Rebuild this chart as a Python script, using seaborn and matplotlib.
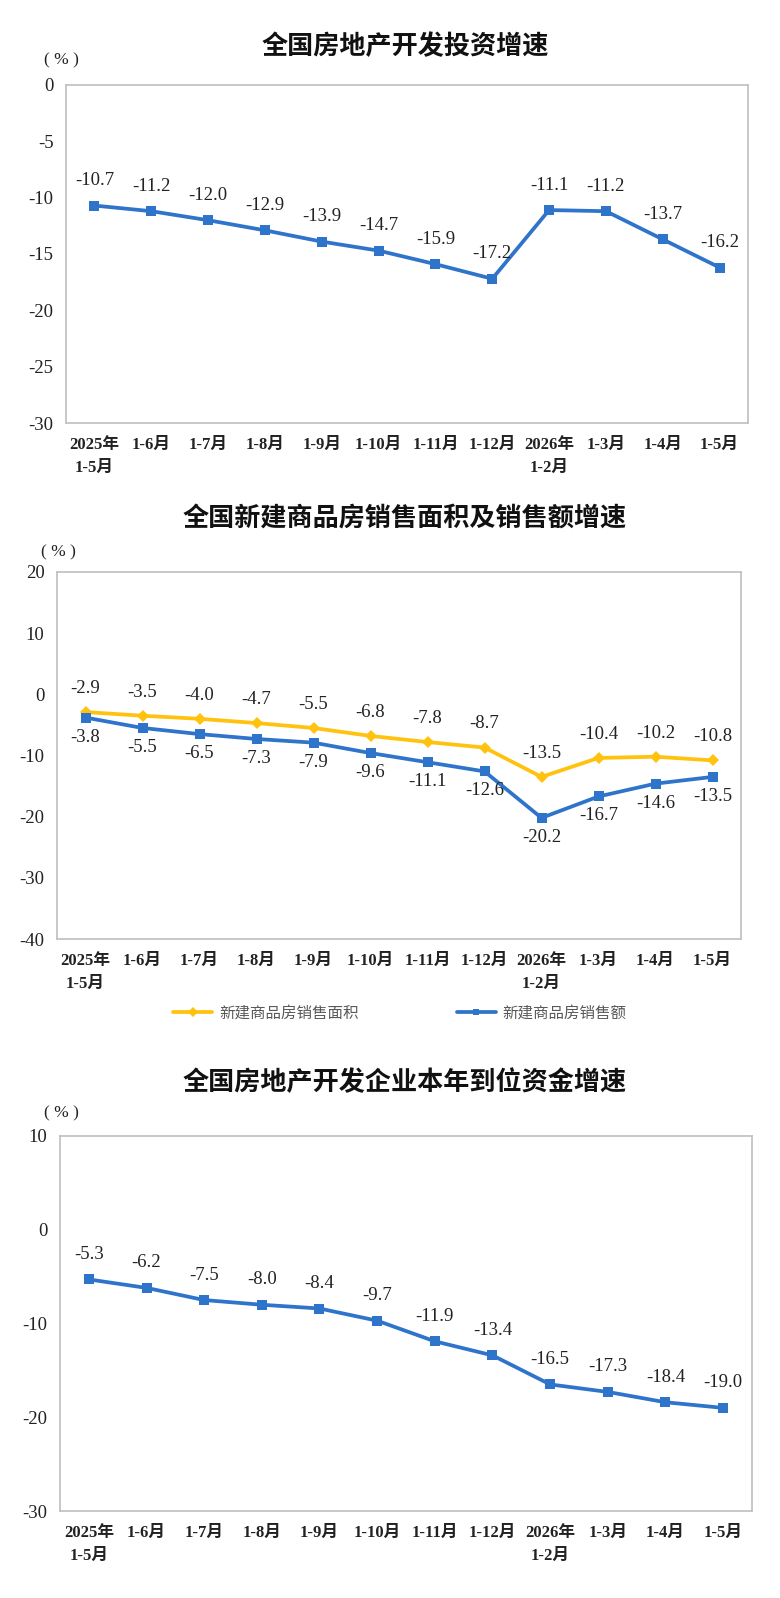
import numpy as np
import pandas as pd
import matplotlib
matplotlib.use("Agg")
import matplotlib.pyplot as plt
import seaborn as sns

# ---------------- data ----------------
periods = ["2025年\n1-5月", "1-6月", "1-7月", "1-8月", "1-9月", "1-10月",
           "1-11月", "1-12月", "2026年\n1-2月", "1-3月", "1-4月", "1-5月"]

invest_growth = [-10.7, -11.2, -12.0, -12.9, -13.9, -14.7, -15.9, -17.2,
                 -11.1, -11.2, -13.7, -16.2]
sales_area_growth = [-2.9, -3.5, -4.0, -4.7, -5.5, -6.8, -7.8, -8.7,
                     -13.5, -10.4, -10.2, -10.8]
sales_value_growth = [-3.8, -5.5, -6.5, -7.3, -7.9, -9.6, -11.1, -12.6,
                      -20.2, -16.7, -14.6, -13.5]
funds_growth = [-5.3, -6.2, -7.5, -8.0, -8.4, -9.7, -11.9, -13.4,
                -16.5, -17.3, -18.4, -19.0]

titles = ["全国房地产开发投资增速",
          "全国新建商品房销售面积及销售额增速",
          "全国房地产开发企业本年到位资金增速"]
legend_labels = ["新建商品房销售面积", "新建商品房销售额"]
y_ticks_1 = [-30, -25, -20, -15, -10, -5, 0]
y_ticks_2 = [-40, -30, -20, -10, 0, 10, 20]
y_ticks_3 = [-30, -20, -10, 0, 10]

# ---------------- style ----------------
sns.set_style("white")
plt.rcParams['font.family'] = ['Liberation Serif', 'Noto Sans CJK SC', 'DejaVu Sans']
plt.rcParams['axes.unicode_minus'] = False

BLUE = "#2F74CB"
YELLOW = "#FFC20E"
SPINE = "#BFBFBF"
TXT = "#222222"

W, H = 780, 1598
fig = plt.figure(figsize=(W / 100, H / 100), dpi=100)


def add_ax(left, right, top, bottom):
    return fig.add_axes([left / W, 1 - bottom / H, (right - left) / W, (bottom - top) / H])


def style_ax(ax, yticks):
    n = len(periods)
    ax.set_xlim(-0.5, n - 0.5)
    ax.set_ylim(yticks[0], yticks[-1])
    ax.set_yticks(yticks)
    ax.set_yticklabels([str(t) for t in yticks], fontsize=13.5, color=TXT,
                       family=['Liberation Serif'])
    ax.set_xticks(range(n))
    ax.set_xticklabels(periods, fontsize=12, fontweight='bold', color=TXT,
                       family=['Liberation Serif', 'Noto Sans CJK SC'], linespacing=1.55,
                       va='top')
    ax.set_xticks(np.arange(0.5, n - 1, 1), minor=True)
    ax.tick_params(axis='x', which='major', length=0, pad=10)
    ax.tick_params(axis='x', which='minor', direction='in', length=5, color=SPINE, width=1)
    ax.tick_params(axis='y', which='major', direction='in', length=4, color=SPINE, width=1,
                   pad=9)
    for s in ax.spines.values():
        s.set_color(SPINE)
        s.set_linewidth(1.2)
    ax.set_xlabel("")
    ax.set_ylabel("")
    ax.grid(False)


def annotate(ax, values, dy):
    for i, v in enumerate(values):
        ax.annotate(f"{v:.1f}", xy=(i, v), xytext=(0, dy), textcoords='offset points',
                    ha='center', va='center', fontsize=13.5, color=TXT,
                    family=['Liberation Serif'])


def title(y, text):
    fig.text(405 / W, 1 - y / H, text, ha='center', va='center', fontsize=18.8,
             fontweight='bold', color='#111111', family=['Noto Sans CJK SC'])


def pct(x, y):
    fig.text(x / W, 1 - y / H, "( % )", ha='center', va='center', fontsize=12.5,
             color=TXT, family=['Liberation Serif'])


# ---------------- chart 1 ----------------
df1 = pd.DataFrame({"period": periods, "value": invest_growth})
ax1 = add_ax(66, 748, 85, 423)
sns.lineplot(data=df1, x="period", y="value", ax=ax1, color=BLUE, linewidth=2.7,
             marker='s', markersize=6.5, markeredgewidth=0, sort=False)
style_ax(ax1, y_ticks_1)
annotate(ax1, invest_growth, 18)
title(47, titles[0])
pct(61, 60)

# ---------------- chart 2 ----------------
df2 = pd.DataFrame({
    "period": periods * 2,
    "value": sales_area_growth + sales_value_growth,
    "series": [legend_labels[0]] * len(periods) + [legend_labels[1]] * len(periods),
})
ax2 = add_ax(57, 741, 572, 939)
sns.lineplot(data=df2, x="period", y="value", hue="series", style="series",
             markers={legend_labels[0]: 'D', legend_labels[1]: 's'},
             dashes=False, palette={legend_labels[0]: YELLOW, legend_labels[1]: BLUE},
             ax=ax2, linewidth=2.7, markersize=6.5, markeredgewidth=0, sort=False)
style_ax(ax2, y_ticks_2)
annotate(ax2, sales_area_growth, 17)
annotate(ax2, sales_value_growth, -14)
leg = ax2.legend(loc='center', bbox_to_anchor=(400 / W, 1 - 1013 / H),
                 bbox_transform=fig.transFigure, ncol=2, frameon=False,
                 handlelength=2.5, columnspacing=6.3, handletextpad=0.45,
                 prop={'family': ['Noto Sans CJK SC'], 'size': 11.2})
for t in leg.get_texts():
    t.set_color('#595959')
for h in leg.get_lines():
    h.set_linewidth(2.7)
    h.set_markersize(5)
title(518, titles[1])
pct(58, 552)

# ---------------- chart 3 ----------------
df3 = pd.DataFrame({"period": periods, "value": funds_growth})
ax3 = add_ax(60, 752, 1136, 1511)
sns.lineplot(data=df3, x="period", y="value", ax=ax3, color=BLUE, linewidth=2.7,
             marker='s', markersize=6.5, markeredgewidth=0, sort=False)
style_ax(ax3, y_ticks_3)
annotate(ax3, funds_growth, 18)
title(1083, titles[2])
pct(61, 1113)

fig.savefig("out.png", dpi=100, facecolor='white')
